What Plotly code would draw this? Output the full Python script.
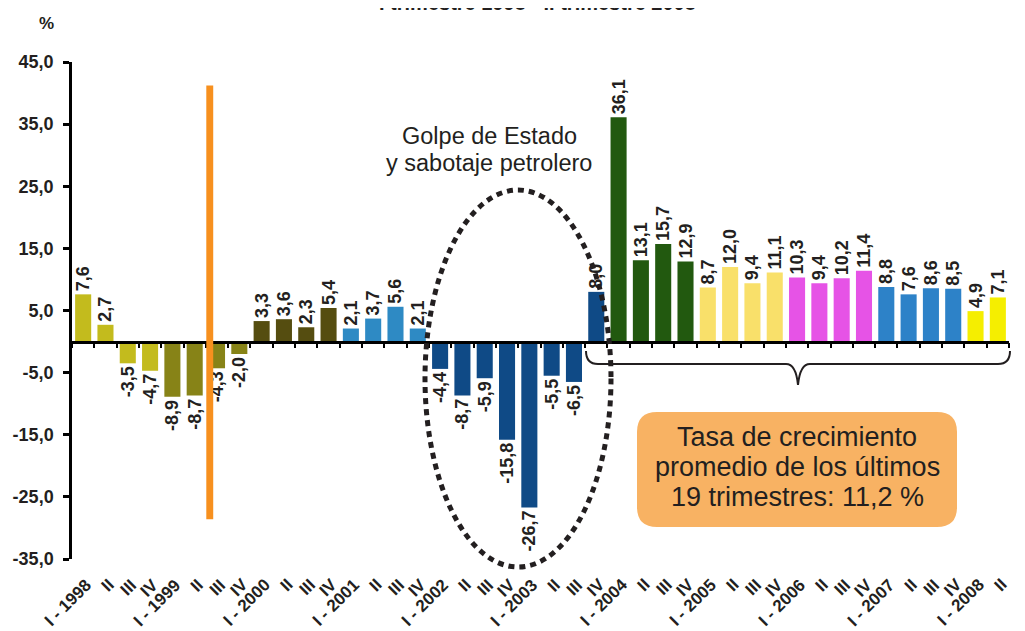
import plotly.graph_objects as go

# ---------------- data ----------------
quarters = ["I - 1998", "II", "III", "IV",
            "I - 1999", "II", "III", "IV",
            "I - 2000", "II", "III", "IV",
            "I - 2001", "II", "III", "IV",
            "I - 2002", "II", "III", "IV",
            "I - 2003", "II", "III", "IV",
            "I - 2004", "II", "III", "IV",
            "I - 2005", "II", "III", "IV",
            "I - 2006", "II", "III", "IV",
            "I - 2007", "II", "III", "IV",
            "I - 2008", "II"]
values = [7.6, 2.7, -3.5, -4.7,
          -8.9, -8.7, -4.3, -2.0,
          3.3, 3.6, 2.3, 5.4,
          2.1, 3.7, 5.6, 2.1,
          -4.4, -8.7, -5.9, -15.8,
          -26.7, -5.5, -6.5, 8.0,
          36.1, 13.1, 15.7, 12.9,
          8.7, 12.0, 9.4, 11.1,
          10.3, 9.4, 10.2, 11.4,
          8.8, 7.6, 8.6, 8.5,
          4.9, 7.1]
year_colors = {
    1998: "#c3bb1d", 1999: "#878317", 2000: "#554d10", 2001: "#2e8ac4",
    2002: "#0f4a86", 2003: "#0f4a86", 2004: "#22590f", 2005: "#f9e06a",
    2006: "#e653e6", 2007: "#2d82c8", 2008: "#f5ee00",
}
years = [1998 + i // 4 for i in range(len(values))]
colors = [year_colors[y] for y in years]
labels = [f"{v:.1f}".replace(".", ",") for v in values]

y_ticks = [-35, -25, -15, -5, 5, 15, 25, 35, 45]
y_ticktext = [f"{t:.1f}".replace(".", ",") for t in y_ticks]

event_span = (-28.6, 41.2)  # orange marker line (y extent)

TXT = "#231f20"
FONT = "Liberation Sans, Arial, Helvetica, sans-serif"

OFF = 8                       # page body margin
W, H = 1025 - OFF, 631 - OFF
L, R, T, B = 64, 16, 54, 72
PW, PH = W - L - R, H - T - B


def px(x):                    # page pixel -> paper x
    return (x - OFF - L) / PW


def py(y):                    # page pixel -> paper y
    return (H - B - (y - OFF)) / PH


n = len(values)
xs = list(range(n))

fig = go.Figure()
fig.add_trace(go.Bar(
    x=xs, y=values, marker=dict(color=colors, line=dict(width=0)),
    width=0.72, text=labels, textposition="outside", textangle=-90,
    textfont=dict(family=FONT, size=18, color=TXT, weight="bold"),
    cliponaxis=False, constraintext="none", showlegend=False,
    hoverinfo="skip",
))
# dummy trace for the zero-line axis with ticks
fig.add_trace(go.Scatter(x=[None], y=[None], xaxis="x2", yaxis="y",
                         showlegend=False, hoverinfo="skip"))

fig.update_layout(
    width=W, height=H,
    margin=dict(l=L, r=R, t=T, b=B, autoexpand=False),
    paper_bgcolor="white", plot_bgcolor="white",
    xaxis=dict(range=[-0.5, n - 0.5], tickvals=xs, showticklabels=False,
               showline=False, ticks="", showgrid=False,
               zeroline=False, automargin=False),
    xaxis2=dict(range=[-0.5, n - 0.5], overlaying="x", anchor="free",
                position=35 / 80, side="bottom",
                tickvals=[i + 0.5 for i in range(-1, n)],
                showticklabels=False, showline=True, linecolor="black",
                linewidth=2.5, ticks="outside", ticklen=5, tickwidth=2,
                tickcolor="black", showgrid=False, zeroline=False),
    yaxis=dict(range=[-35, 45], tickvals=y_ticks, ticktext=y_ticktext,
               showline=True, linecolor="black", linewidth=2.5,
               ticks="outside", ticklen=6, tickwidth=2.5, tickcolor="black",
               ticklabelstandoff=6,
               showgrid=False, zeroline=False, automargin=False,
               tickfont=dict(family=FONT, size=18, color=TXT, weight="bold")),
)

shapes = []
# orange vertical marker between 1999 II and 1999 III
shapes.append(dict(type="rect", xref="x", yref="y", x0=5.52, x1=5.83,
                   y0=event_span[0], y1=event_span[1],
                   fillcolor="#f7901e", line=dict(width=0), layer="above"))
# dotted ellipse
shapes.append(dict(type="circle", xref="paper", yref="paper",
                   x0=px(425), x1=px(611), y0=py(567), y1=py(190),
                   line=dict(color=TXT, width=5, dash="6px,5px")))
# curly brace
bp = (f"M {px(586)},{py(351)} Q {px(586)},{py(364)} {px(598)},{py(364)} "
      f"L {px(786)},{py(364)} Q {px(796)},{py(364)} {px(798)},{py(385)} "
      f"Q {px(800)},{py(364)} {px(810)},{py(364)} "
      f"L {px(998)},{py(364)} Q {px(1010)},{py(364)} {px(1010)},{py(351)}")
shapes.append(dict(type="path", xref="paper", yref="paper", path=bp,
                   line=dict(color=TXT, width=2)))
# rounded orange box
x0b, x1b, y0b, y1b, r = 637, 957, 412, 527, 20
rp = (f"M {px(x0b + r)},{py(y0b)} L {px(x1b - r)},{py(y0b)} "
      f"Q {px(x1b)},{py(y0b)} {px(x1b)},{py(y0b + r)} "
      f"L {px(x1b)},{py(y1b - r)} Q {px(x1b)},{py(y1b)} {px(x1b - r)},{py(y1b)} "
      f"L {px(x0b + r)},{py(y1b)} Q {px(x0b)},{py(y1b)} {px(x0b)},{py(y1b - r)} "
      f"L {px(x0b)},{py(y0b + r)} Q {px(x0b)},{py(y0b)} {px(x0b + r)},{py(y0b)} Z")
shapes.append(dict(type="path", xref="paper", yref="paper", path=rp,
                   fillcolor="#f8b263", line=dict(width=0), layer="above"))
fig.update_layout(shapes=shapes)

ann = []
ann.append(dict(text="I trimestre 1998 - II trimestre 2008", xref="paper",
                yref="paper", x=px(537), y=py(16), xanchor="center",
                yanchor="bottom", showarrow=False,
                font=dict(family=FONT, size=20, color=TXT, weight="bold")))
ann.append(dict(text="%", xref="paper", yref="paper", x=px(46), y=py(23),
                xanchor="center", yanchor="middle", showarrow=False,
                font=dict(family=FONT, size=17, color=TXT, weight="bold")))
for t, yy in [("Golpe de Estado", 136), ("y sabotaje petrolero", 163)]:
    ann.append(dict(text=t, xref="paper", yref="paper", x=px(489), y=py(yy),
                    xanchor="center", yanchor="middle", showarrow=False,
                    font=dict(family=FONT, size=23.5, color=TXT)))
for t, yy in [("Tasa de crecimiento", 437), ("promedio de los últimos", 467),
              ("19 trimestres: 11,2 %", 497)]:
    ann.append(dict(text=t, xref="paper", yref="paper", x=px(797), y=py(yy),
                    xanchor="center", yanchor="middle", showarrow=False,
                    font=dict(family=FONT, size=27, color=TXT)))

# rotated category labels (end of each label near its bar)
XFS = 17
cw = {"I": 0.278, "V": 0.667, " ": 0.278, "-": 0.333}
for i, q in enumerate(quarters):
    w = sum(cw.get(c, 0.556) for c in q) * XFS
    ann.append(dict(text=q, xref="x", yref="paper", x=i, y=py(582),
                    xanchor="center", yanchor="middle", showarrow=False,
                    textangle=-45, xshift=5.5 - 0.354 * w, yshift=-0.354 * w,
                    font=dict(family=FONT, size=XFS, color=TXT, weight="bold")))
fig.update_layout(annotations=ann)

fig.write_html("out.html")
